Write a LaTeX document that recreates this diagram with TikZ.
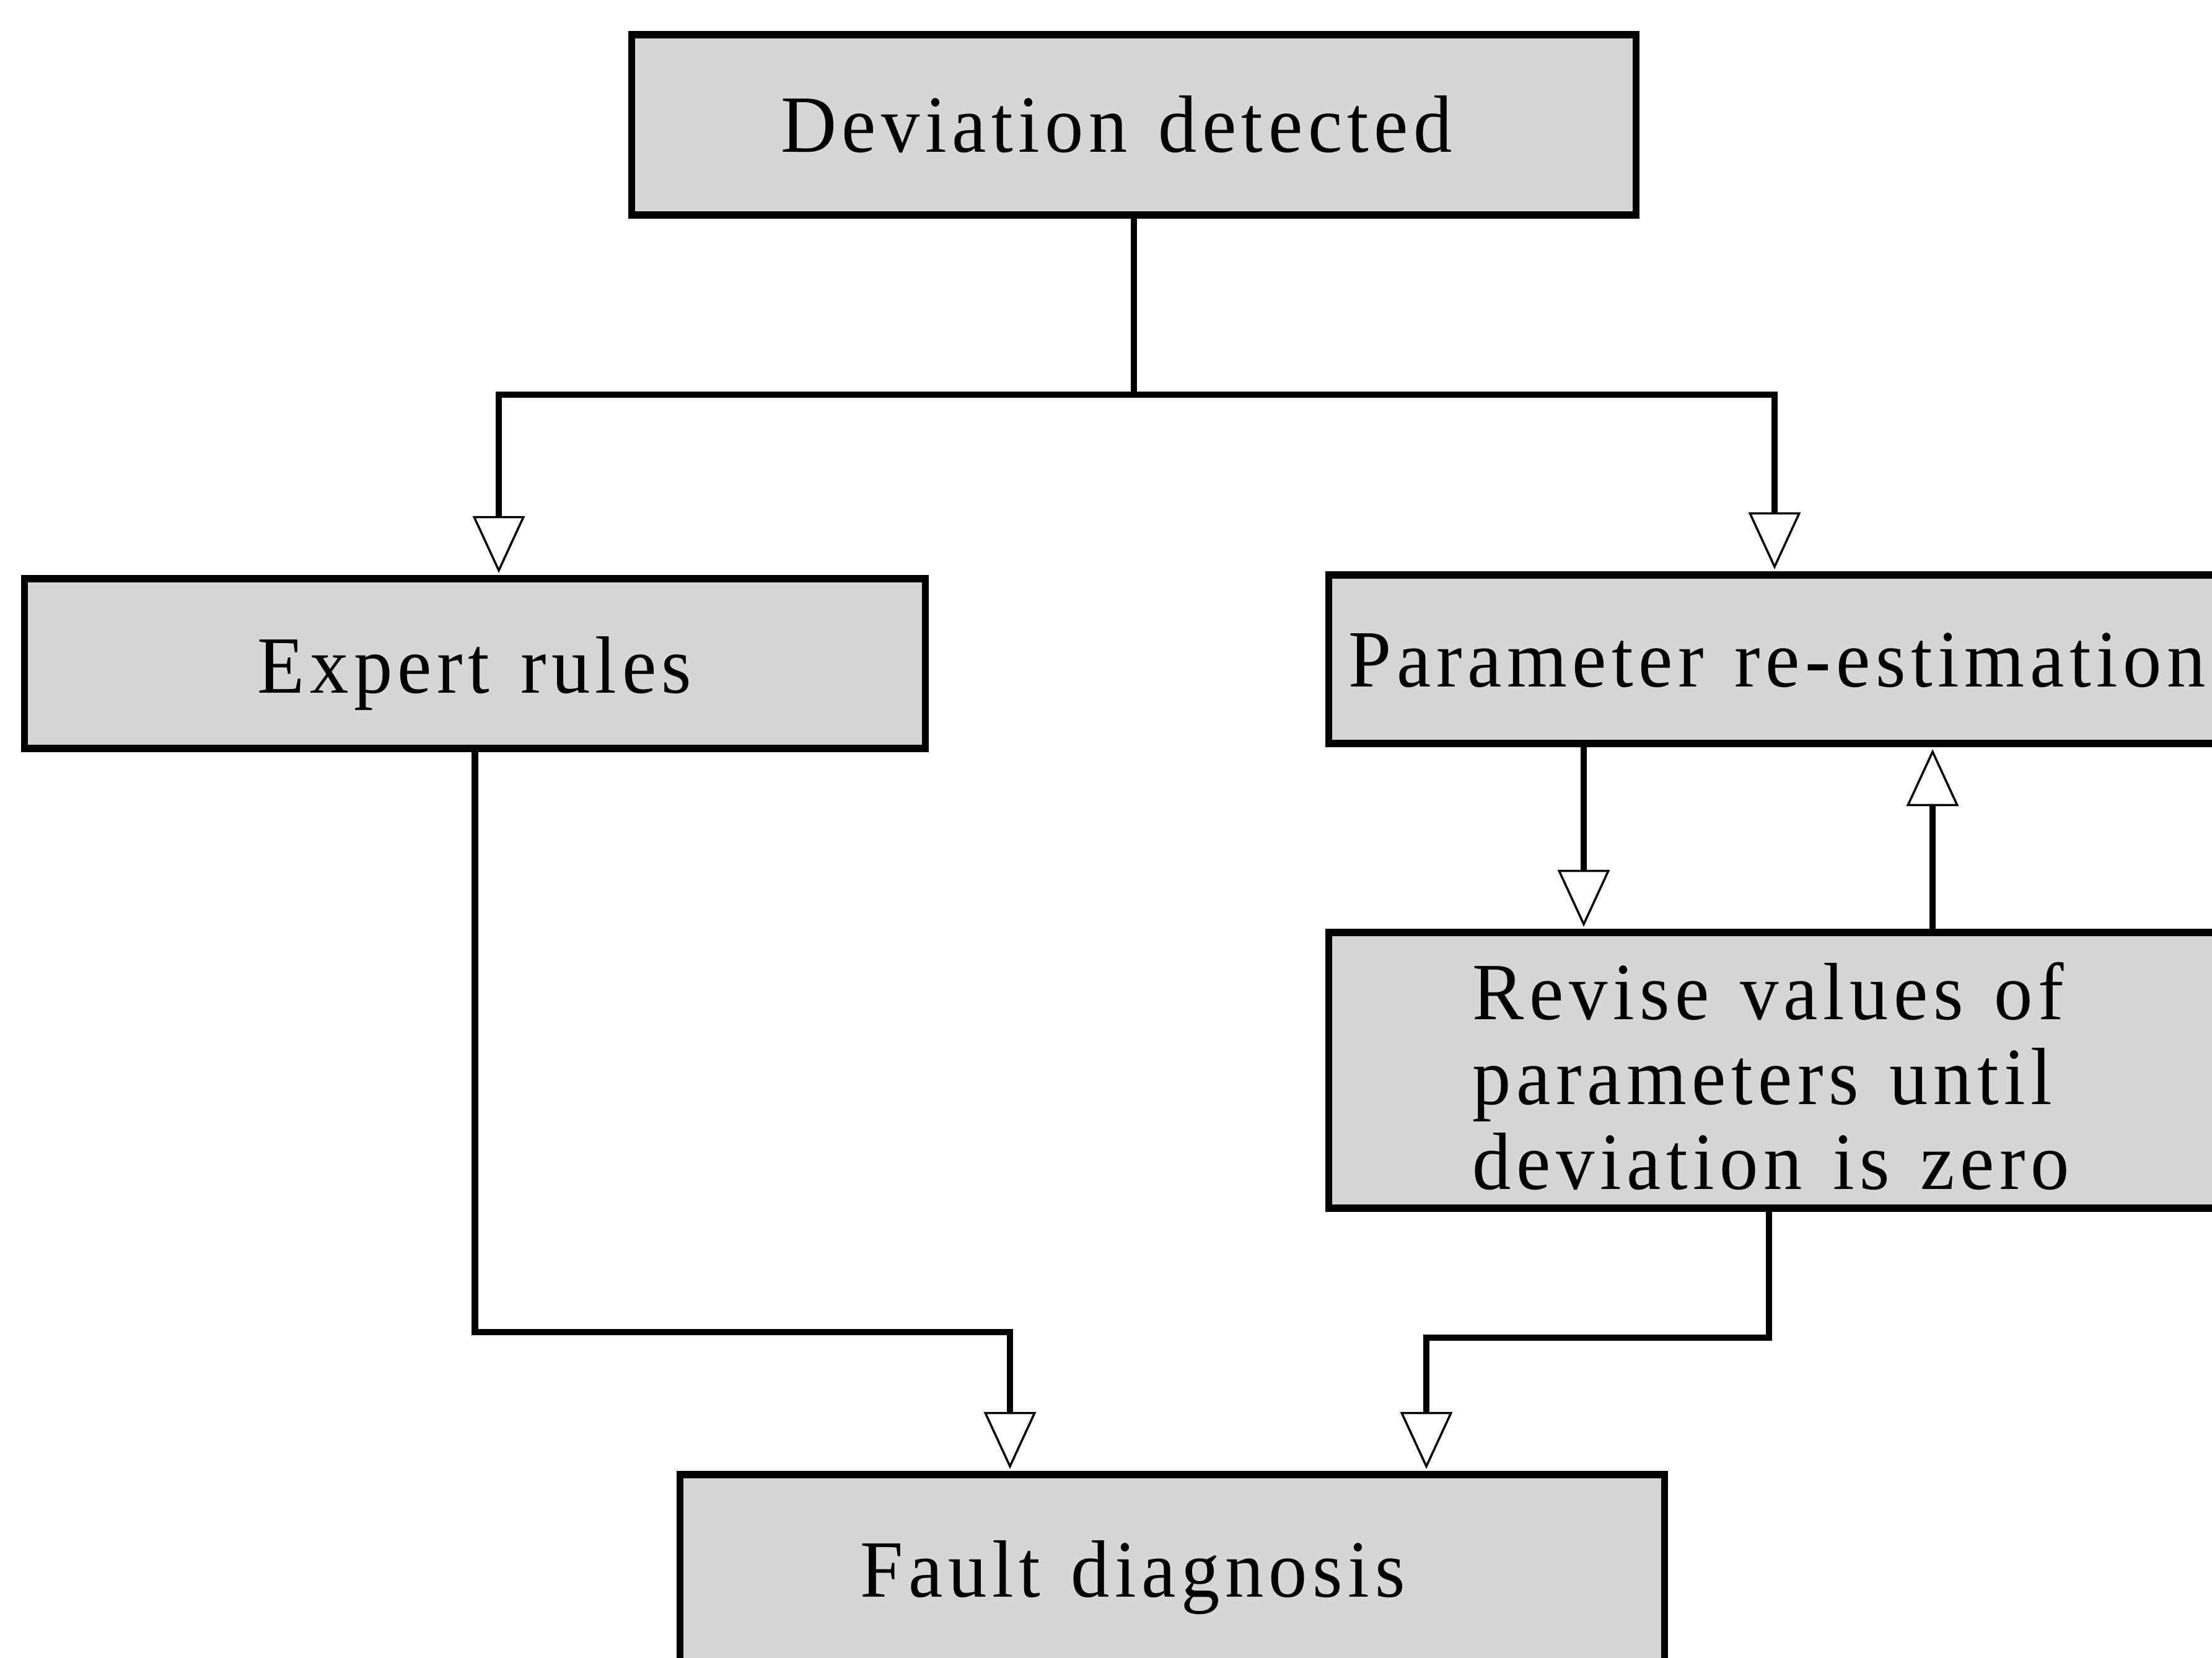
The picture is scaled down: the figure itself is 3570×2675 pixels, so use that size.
\documentclass[tikz,border=0pt]{standalone}
\usepackage{fontspec}
\setmainfont{Liberation Serif}[FakeStretch=0.95, LetterSpace=6.5, WordSpace=1.25]
\usetikzlibrary{arrows.meta}
\definecolor{boxgray}{RGB}{214,214,214}

\begin{document}
\begin{tikzpicture}[x=0.01cm, y=-0.01cm,
  box/.style={draw=black, line width=3.3pt, fill=boxgray, rectangle,
    inner sep=0pt, outer sep=0pt},
  lbl/.style={inner sep=0pt, anchor=base,
    font=\fontsize{37.3pt}{49pt}\selectfont},
  link/.style={line width=3pt, line join=miter,
    -{Triangle[open, length=0.92cm, width=0.84cm, line width=1pt]},
    shorten >=0.09cm},
]
\useasboundingbox (0,0) rectangle (3570,2675);

% boxes
\node[box, minimum width=16.2cm, minimum height=2.91cm] (dev) at (1830,201.5) {};
\node[box, minimum width=14.53cm, minimum height=2.74cm] (expert) at (766.5,1071) {};
\node[box, minimum width=15.55cm, minimum height=2.72cm] (param) at (2922.5,1064) {};
\node[box, minimum width=15.55cm, minimum height=4.45cm] (revise) at (2922.5,1727.5) {};
\node[box, minimum width=15.88cm, minimum height=4.2cm] (fault) at (1892,2590) {};

% texts
\node[lbl] (tdev) at (1802,245) {Deviation detected};
\node[lbl] (texp) at (766,1118) {Expert rules};
\node[lbl] (tpar) at (2868,1108) {Parameter re-estimation};
\node[lbl, anchor=base west] (trev1) at (2376,1645) {Revise values of};
\node[lbl, anchor=base west] (trev2) at (2376,1782) {parameters until};
\node[lbl, anchor=base west] (trev3) at (2376,1919) {deviation is zero};
\node[lbl] (tfault) at (1828,2577) {Fault diagnosis};

% branch points of the connectors
\coordinate (jl) at (805,637);
\coordinate (jr) at (2864,637);
\coordinate (pd) at (2556,0);
\coordinate (pu) at (3119,0);
\coordinate (ef) at (1630,2150);
\coordinate (rs) at (2855,0);
\coordinate (rf) at (2302,2159);

% connectors
\draw[link] (dev.south) |- (jl) -- (jl |- expert.north);
\draw[link] (dev.south) |- (jr) -- (jr |- param.north);
\draw[link] (param.south -| pd) -- (revise.north -| pd);
\draw[link] (revise.north -| pu) -- (param.south -| pu);
\draw[link] (expert.south) |- (ef) -- (ef |- fault.north);
\draw[link] (revise.south -| rs) |- (rf) -- (rf |- fault.north);
\end{tikzpicture}
\end{document}
